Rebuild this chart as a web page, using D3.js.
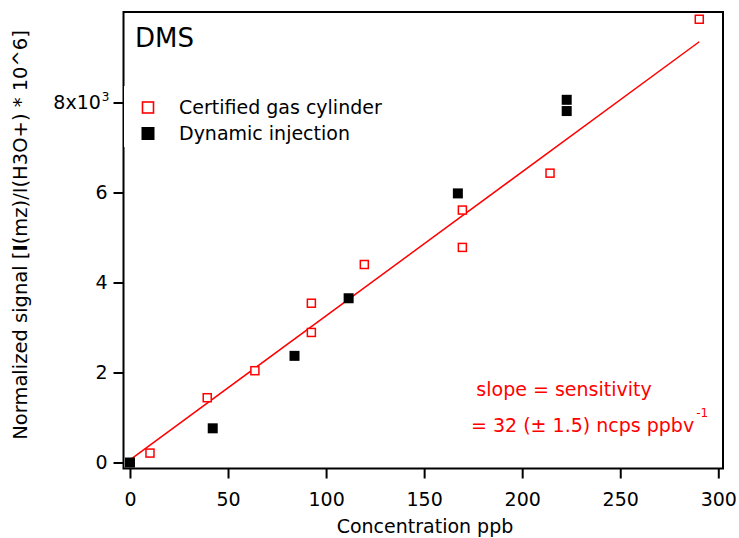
<!DOCTYPE html>
<html>
<head>
<meta charset="utf-8">
<script src="https://cdn.jsdelivr.net/npm/d3@7"></script>
<style>
  html, body { margin: 0; padding: 0; background: #fff; }
  svg { display: block; font-family: "DejaVu Sans", sans-serif; }
</style>
</head>
<body>
<svg id="chart" width="739" height="538"></svg>
<script>
// Calibration points for DMS: concentration (ppb) vs normalized signal
const certConc   = [10.2, 39.4, 63.7, 92.5, 92.5, 119.5, 169.5, 169.5, 214.2, 290.3];
const certSignal = [210, 1440, 2040, 2890, 3540, 4400, 4780, 5610, 6430, 9850];
const dynConc    = [0, 42.2, 83.9, 111.5, 167.2, 222.7, 222.7];
const dynSignal  = [0, 760, 2370, 3650, 5980, 7810, 8060];

// Linear fit: slope = sensitivity (ncps per ppbv)
const fitSlope = 32;
const fitIntercept = 60;
const fitRange = [0, 290.3];

const xTicks = [0, 50, 100, 150, 200, 250, 300];
const yTicks = [0, 2000, 4000, 6000, 8000];
const seriesNames = ["Certified gas cylinder", "Dynamic injection"];

const svg = d3.select("#chart");
const plotL = 123.5, plotR = 723, plotT = 12, plotB = 468.5;

const x = d3.scaleLinear().domain([-3.3, 302.4]).range([plotL, plotR]);
const y = d3.scaleLinear().domain([-133, 10011]).range([plotB, plotT]);

const FS = 19;

// Bottom axis
const xAxis = svg.append("g")
  .attr("transform", `translate(0,${plotB})`)
  .call(d3.axisBottom(x).tickValues(xTicks).tickSize(10).tickSizeOuter(0).tickPadding(14).tickFormat(d3.format("d")));
xAxis.select(".domain").remove();
xAxis.selectAll(".tick line").attr("stroke", "#000").attr("stroke-width", 2);
xAxis.selectAll(".tick text").attr("font-size", FS).attr("font-family", "DejaVu Sans").attr("fill", "#000");

// Left axis
const yAxis = svg.append("g")
  .attr("transform", `translate(${plotL},0)`)
  .call(d3.axisLeft(y).tickValues(yTicks).tickSize(10).tickSizeOuter(0).tickPadding(6).tickFormat(""));
yAxis.select(".domain").remove();
yAxis.selectAll(".tick line").attr("stroke", "#000").attr("stroke-width", 2);
yAxis.selectAll(".tick").each(function(d) {
  const t = d3.select(this).select("text")
    .attr("font-size", FS).attr("font-family", "DejaVu Sans").attr("fill", "#000")
    .attr("x", -16).attr("dy", "0.34em");
  if (d === 8000) {
    t.attr("x", -14);
    t.append("tspan").text("8x10");
    t.append("tspan").text("3").attr("font-size", 12).attr("dx", 1).attr("dy", "-0.7em");
  } else {
    t.text(d / 1000);
  }
});

// Plot frame
svg.append("rect")
  .attr("x", plotL).attr("y", plotT)
  .attr("width", plotR - plotL).attr("height", plotB - plotT)
  .attr("fill", "none").attr("stroke", "#000").attr("stroke-width", 2);

// Fit line
svg.append("line")
  .attr("x1", x(fitRange[0])).attr("y1", y(fitIntercept + fitSlope * fitRange[0]))
  .attr("x2", x(fitRange[1])).attr("y2", y(fitIntercept + fitSlope * fitRange[1]))
  .attr("stroke", "#ff0000").attr("stroke-width", 1.5);

// Certified gas cylinder: open red squares
const certData = certConc.map((c, i) => ({ c, s: certSignal[i] }));
svg.append("g").selectAll("rect").data(certData).join("rect")
  .attr("x", d => x(d.c) - 4).attr("y", d => y(d.s) - 4)
  .attr("width", 8).attr("height", 8)
  .attr("fill", "#fff").attr("stroke", "#ff0000").attr("stroke-width", 1.5);

// Dynamic injection: filled black squares
const dynData = dynConc.map((c, i) => ({ c, s: dynSignal[i] }));
svg.append("g").selectAll("rect").data(dynData).join("rect")
  .attr("x", d => x(d.c) - 5).attr("y", d => y(d.s) - 5)
  .attr("width", 10).attr("height", 10)
  .attr("fill", "#000");

// Legend (white box sits over the left frame edge)
const legend = svg.append("g");
legend.append("rect").attr("x", plotL + 0.5).attr("y", 86).attr("width", 262).attr("height", 61).attr("fill", "#fff");
legend.append("rect").attr("x", 142.5).attr("y", 102).attr("width", 11).attr("height", 11)
  .attr("fill", "#fff").attr("stroke", "#ff0000").attr("stroke-width", 1.6);
legend.append("rect").attr("x", 141.5).attr("y", 127).attr("width", 13).attr("height", 13).attr("fill", "#000");
legend.selectAll("text").data(seriesNames).join("text")
  .attr("x", 179).attr("y", (d, i) => 114 + i * 26)
  .attr("font-size", FS).attr("fill", "#000").text(d => d);

// Title
svg.append("text").attr("x", 135).attr("y", 47).attr("font-size", 26).attr("fill", "#000").text("DMS");

// Annotation
svg.append("text").attr("x", 564).attr("y", 396).attr("text-anchor", "middle")
  .attr("font-size", FS).attr("fill", "#ff0000").text("slope = sensitivity");
const ann = svg.append("text").attr("x", 471).attr("y", 432)
  .attr("font-size", FS).attr("fill", "#ff0000");
ann.append("tspan").text("= " + fitSlope + " (\u00B1 1.5) ncps ppbv");
ann.append("tspan").text("-1").attr("font-size", 12).attr("dx", 2).attr("dy", -15);

// Axis titles
svg.append("text").attr("x", 425).attr("y", 533).attr("text-anchor", "middle")
  .attr("font-size", FS).attr("fill", "#000").text("Concentration ppb");

const yt = svg.append("text").attr("transform", "translate(27,235) rotate(-90)")
  .attr("text-anchor", "middle").attr("font-size", 19.5).attr("fill", "#000");
yt.append("tspan").text("Normalized signal [");
yt.append("tspan").text("I").attr("font-weight", "bold");
yt.append("tspan").text("(mz)/I(H3O+) * 10^6]");
</script>
</body>
</html>
